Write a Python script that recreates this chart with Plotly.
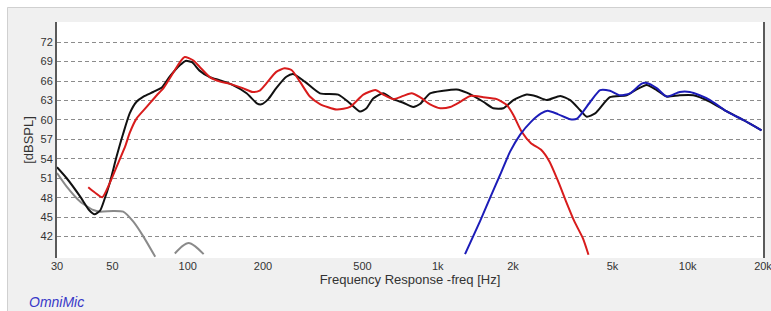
import math
import plotly.graph_objects as go

# ---------------- data ----------------
black_f = [30, 32.8, 37.1, 40.3, 42.4, 44.6, 46.5, 48.7, 51.9, 55.2, 58.6, 62.4, 66.5,
           72.7, 78.8, 84.8, 93.4, 98, 104, 111.5, 122.5, 134.8, 151, 172, 189, 197,
           210, 226, 248, 264, 294, 338, 400, 446, 489, 519, 552, 605, 664, 728, 798,
           849, 932, 1053, 1191, 1306, 1521, 1668, 1830, 2007, 2271, 2491, 2731, 3090,
           3388, 3715, 3947, 4262, 4883, 5696, 6245, 6848, 7510, 8235, 9296, 10520,
           12280, 14320, 16650, 19730]
black_db = [52.7, 51.0, 48.2, 46.1, 45.45, 46.0, 47.8, 50.2, 54.3, 57.9, 61.0, 62.8, 63.6,
            64.3, 65.0, 66.7, 68.5, 69.1, 68.9, 67.6, 66.6, 66.1, 65.4, 64.1, 62.55, 62.4,
            63.2, 64.9, 66.65, 67.07, 65.9, 64.1, 63.9, 62.55, 61.3, 61.8, 63.3, 64.1, 63.2,
            62.65, 62.0, 62.45, 64.1, 64.5, 64.7, 64.2, 62.8, 61.8, 61.8, 63.06, 63.9, 63.6,
            63.06, 63.7, 63.06, 61.5, 60.5, 61.0, 63.5, 63.8, 64.7, 65.4, 64.6, 63.6, 63.8,
            63.8, 62.8, 61.3, 60.0, 58.4]

red_f = [40.0, 42.5, 45.5, 48.7, 52.9, 56.3, 58.6, 62.4, 68.5, 75.2, 80, 87.9, 93.4, 97.3,
         105, 111.5, 122.5, 134.8, 146.6, 166, 182, 194, 206, 226, 244, 260, 281, 308, 338,
         394, 446, 504, 563, 605, 664, 728, 786, 849, 932, 1023, 1122, 1231, 1350, 1521,
         1723, 1890, 2007, 2164, 2360, 2591, 2797, 3019, 3262, 3524, 3806, 4008]
red_db = [49.6, 48.8, 48.07, 50.2, 53.5, 56.0, 58.0, 60.2, 62.0, 63.8, 64.9, 67.4, 69.0, 69.7,
          69.2, 68.2, 66.6, 65.9, 65.6, 64.9, 64.3, 64.5, 65.6, 67.4, 67.95, 67.7, 65.9, 63.6,
          62.45, 61.6, 62.0, 63.9, 64.6, 63.9, 63.2, 63.7, 64.1, 63.5, 62.4, 61.8, 62.0, 62.8,
          63.7, 63.5, 63.2, 62.3, 60.75, 58.2, 56.4, 55.4, 53.6, 50.7, 47.4, 44.3, 41.75, 39.2]

blue_f = [1286, 1477, 1616, 1775, 1947, 2134, 2360, 2591, 2750, 3019, 3388, 3608, 4077, 4463,
          4883, 5357, 5876, 6545, 6848, 7510, 8235, 9296, 10190, 11160, 12280, 14320, 16650,
          19730]
blue_db = [39.3, 44.4, 47.9, 51.5, 55.1, 57.7, 59.7, 61.0, 61.4, 60.9, 60.1, 60.2, 62.8, 64.6,
           64.5, 63.8, 64.1, 65.6, 65.7, 64.9, 63.6, 64.3, 64.3, 63.8, 63.06, 61.3, 60.0, 58.4]

gray_f = [30, 32.8, 37.1, 41.9, 44.6, 50.4, 55.2, 60.6, 66.5, 74.1, None,
          88.8, 94.9, 100.9, 107.2, 115.8]
gray_db = [51.8, 49.7, 47.4, 46.1, 45.85, 45.96, 45.85, 44.3, 42.0, 38.9, None,
           39.4, 40.5, 41.0, 40.5, 39.3]

x_tickvals = [30, 50, 100, 200, 500, 1000, 2000, 5000, 10000, 20000]
x_ticktext = ["30", "50", "100", "200", "500", "1k", "2k", "5k", "10k", "20k"]
decade_lines = [100, 1000, 10000]
minor_lines = [40, 50, 60, 70, 80, 90, 200, 300, 400, 500, 600, 700, 800, 900,
               2000, 3000, 4000, 5000, 6000, 7000, 8000, 9000]
y_tickvals = [42, 45, 48, 51, 54, 57, 60, 63, 66, 69, 72]

# ---------------- figure ----------------
W, H = 771, 311
L, R, T, B = 57, 8, 22, 53
pw, ph = W - L - R, H - T - B


def px(x):
    return (x - L) / pw


def py(y):
    return (H - B - y) / ph


xr = [math.log10(30), math.log10(20000)]
FONT = "Liberation Sans, Arial, sans-serif"

fig = go.Figure()
line_kw = dict(width=2, shape="spline", smoothing=0.6)
fig.add_trace(go.Scatter(x=gray_f, y=gray_db, mode="lines", xaxis="x2", yaxis="y",
                         line=dict(color="#8a8a8a", **line_kw), connectgaps=False,
                         hoverinfo="skip", showlegend=False))
fig.add_trace(go.Scatter(x=black_f, y=black_db, mode="lines", xaxis="x2", yaxis="y",
                         line=dict(color="#111111", **line_kw), showlegend=False))
fig.add_trace(go.Scatter(x=red_f, y=red_db, mode="lines", xaxis="x2", yaxis="y",
                         line=dict(color="#d81c1c", **line_kw), showlegend=False))
fig.add_trace(go.Scatter(x=blue_f, y=blue_db, mode="lines", xaxis="x2", yaxis="y",
                         line=dict(color="#1c1cb8", **line_kw), showlegend=False))

fig.update_layout(
    width=W, height=H, autosize=False,
    margin=dict(l=L, r=R, t=T, b=B, pad=0, autoexpand=False),
    paper_bgcolor="#f0f0f0",
    plot_bgcolor="#ffffff",
    font=dict(family=FONT, size=11, color="#333333"),
    showlegend=False,
    xaxis=dict(
        type="log", range=xr, tickmode="array", tickvals=decade_lines,
        showticklabels=False, ticks="", showgrid=True, gridcolor="#1a1a1a", gridwidth=1,
        showline=True, mirror=True, linecolor="#5a5a5a", linewidth=2, zeroline=False,
        minor=dict(tickmode="array", tickvals=minor_lines, showgrid=True,
                   gridcolor="#a8a8a8", griddash="1px,2px", gridwidth=1, ticks=""),
        automargin=False, fixedrange=True,
    ),
    xaxis2=dict(
        type="log", range=xr, overlaying="x", side="bottom", anchor="y",
        tickmode="array", tickvals=x_tickvals, ticktext=x_ticktext,
        showgrid=False, ticks="", showline=False, zeroline=False,
        tickfont=dict(size=11, color="#333333"), ticklabeloverflow="allow",
        title=dict(text="Frequency Response -freq [Hz]", standoff=3,
                   font=dict(size=13, color="#333333")),
        automargin=False, fixedrange=True,
    ),
    yaxis=dict(
        range=[38.7, 75.1], tickmode="array", tickvals=y_tickvals,
        showgrid=True, gridcolor="#8c8c8c", griddash="4px,3px", gridwidth=1,
        showline=True, mirror=True, linecolor="#5a5a5a", linewidth=2, zeroline=False,
        ticks="", tickfont=dict(size=11, color="#333333"),
        title=dict(text="[dBSPL]", standoff=4, font=dict(size=13, color="#333333")),
        automargin=False, fixedrange=True,
    ),
    shapes=[
        dict(type="rect", xref="paper", yref="paper", x0=px(-5), x1=px(7), y0=py(H + 5),
             y1=py(-5), fillcolor="#ffffff", line=dict(width=0), layer="above"),
        dict(type="rect", xref="paper", yref="paper", x0=px(-5), x1=px(W + 5), y0=py(7),
             y1=py(-5), fillcolor="#ffffff", line=dict(width=0), layer="above"),
        dict(type="line", xref="paper", yref="paper", x0=px(7.5), x1=px(7.5), y0=py(7.5),
             y1=py(H + 5), line=dict(color="#d0d0d0", width=1), layer="above"),
        dict(type="line", xref="paper", yref="paper", x0=px(7.5), x1=px(W + 5), y0=py(7.5),
             y1=py(7.5), line=dict(color="#d0d0d0", width=1), layer="above"),
    ],
    annotations=[
        dict(text="<i>OmniMic</i>", xref="paper", yref="paper", x=px(27), y=py(301.5),
             xanchor="left", yanchor="middle", showarrow=False,
             font=dict(family=FONT, size=14, color="#3838c8")),
    ],
)

fig.write_html("out.html", config={"displayModeBar": False, "responsive": False},
               post_script="document.body.style.margin='0px';"
                           "document.body.style.overflow='hidden';")
